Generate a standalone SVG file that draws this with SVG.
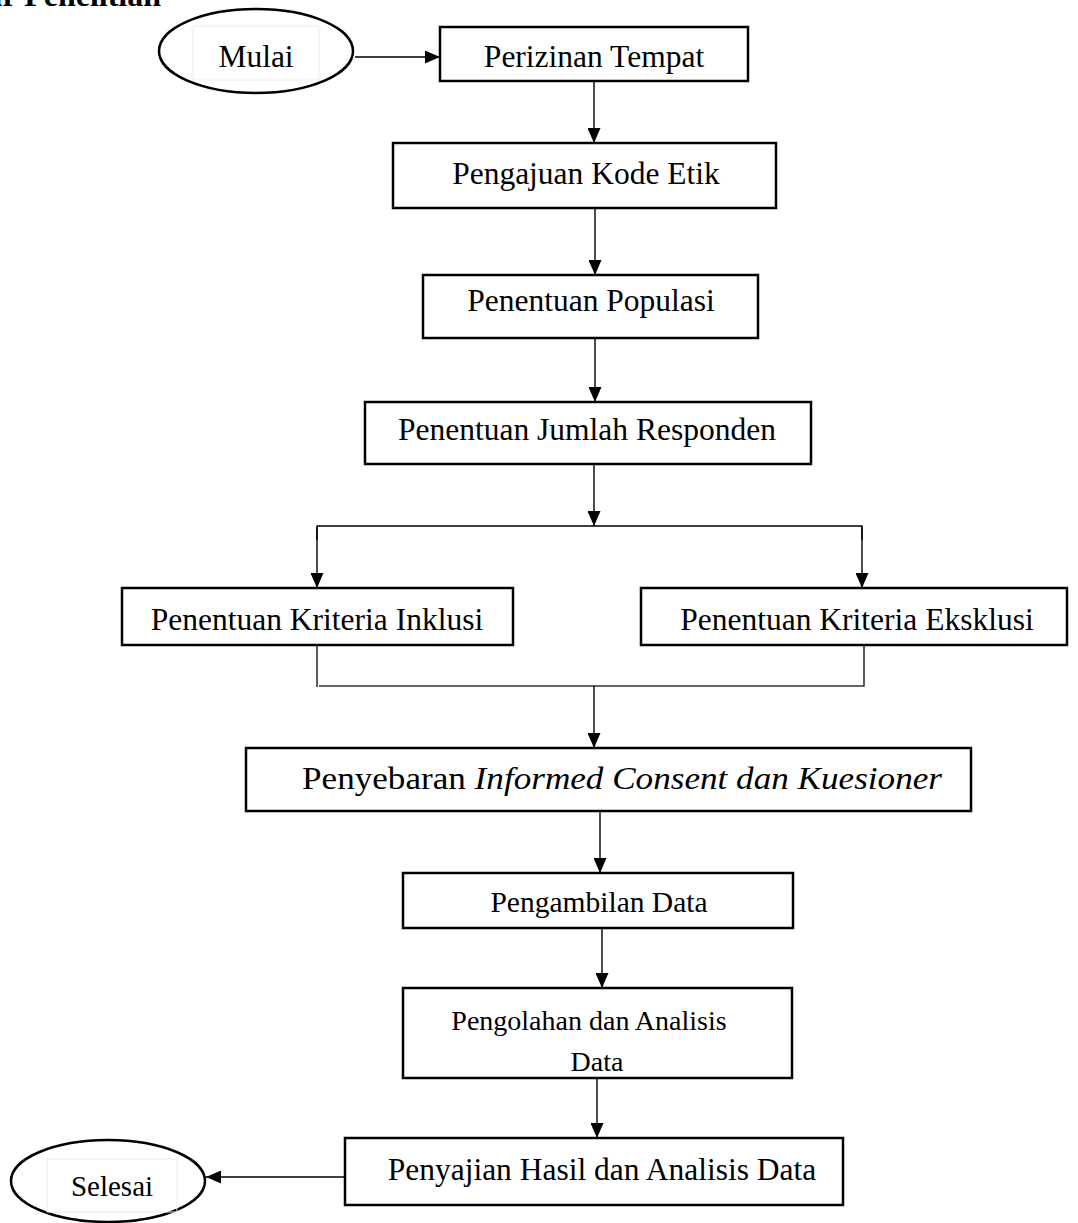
<svg xmlns="http://www.w3.org/2000/svg" width="1078" height="1223" viewBox="0 0 1078 1223">
<style>
.box{fill:#fff;stroke:#000;stroke-width:2.5}
.oval{fill:#fff;stroke:#000;stroke-width:2.5}
.tb{fill:none;stroke:#ececec;stroke-width:1}
.t{font-family:"Liberation Serif","Times New Roman",serif;font-size:31.5px;fill:#000;text-anchor:middle}
.ts{font-family:"Liberation Serif","Times New Roman",serif;font-size:28px;fill:#000;text-anchor:middle}
.c{fill:none;stroke:#000;stroke-width:1.4}
.m{fill:none;stroke:#333;stroke-width:1.6}
</style>
<defs>
<marker id="ah" markerWidth="15" markerHeight="13" refX="15" refY="6.5" orient="auto" markerUnits="userSpaceOnUse">
<path d="M0,0 L15,6.5 L0,13 Z" fill="#000"/>
</marker>
</defs>
<rect width="1078" height="1223" fill="#fff"/>
<text x="161" y="6" font-family="'Liberation Serif','Times New Roman',serif" font-size="32" font-weight="bold" text-anchor="end">Alur Penelitian</text>

<g id="connectors">
<line class="c" x1="355" y1="57" x2="440" y2="57" marker-end="url(#ah)"/>
<line class="c" x1="594" y1="81" x2="594" y2="143" marker-end="url(#ah)"/>
<line class="c" x1="595" y1="208" x2="595" y2="275" marker-end="url(#ah)"/>
<line class="c" x1="595" y1="338" x2="595" y2="402" marker-end="url(#ah)"/>
<line class="c" x1="594" y1="464" x2="594" y2="526" marker-end="url(#ah)"/>
<polyline class="c" points="317,540 317,526 862,526 862,540"/>
<line class="c" x1="317" y1="527" x2="317" y2="588" marker-end="url(#ah)"/>
<line class="c" x1="862" y1="527" x2="862" y2="588" marker-end="url(#ah)"/>
<polyline class="m" points="317,645 317,687"/>
<polyline class="m" points="319,686 864,686 864,645"/>
<line class="c" x1="594" y1="686" x2="594" y2="748" marker-end="url(#ah)"/>
<line class="c" x1="600" y1="811" x2="600" y2="873" marker-end="url(#ah)"/>
<line class="c" x1="602" y1="928" x2="602" y2="988" marker-end="url(#ah)"/>
<line class="c" x1="597" y1="1078" x2="597" y2="1138" marker-end="url(#ah)"/>
<line class="c" x1="345" y1="1177" x2="206" y2="1177" marker-end="url(#ah)"/>
</g>

<g id="mulai">
<ellipse class="oval" cx="256" cy="51" rx="97" ry="42"/>
<rect class="tb" x="193" y="26" width="126" height="54"/>
<text class="t" x="256" y="67">Mulai</text>
</g>
<g id="perizinan">
<rect class="box" x="440" y="27" width="308" height="54"/>
<text class="t" x="594" y="67">Perizinan Tempat</text>
</g>
<g id="kode-etik">
<rect class="box" x="393" y="143" width="383" height="65"/>
<text class="t" x="586" y="184">Pengajuan Kode Etik</text>
</g>
<g id="populasi">
<rect class="box" x="423" y="275" width="335" height="63"/>
<text class="t" x="591" y="311">Penentuan Populasi</text>
</g>
<g id="jumlah">
<rect class="box" x="365" y="402" width="446" height="62"/>
<text class="t" x="587" y="440">Penentuan Jumlah Responden</text>
</g>
<g id="inklusi">
<rect class="box" x="122" y="588" width="391" height="57"/>
<text class="t" x="317" y="630">Penentuan Kriteria Inklusi</text>
</g>
<g id="eksklusi">
<rect class="box" x="641" y="588" width="426" height="57"/>
<text class="t" x="857" y="630">Penentuan Kriteria Eksklusi</text>
</g>
<g id="penyebaran">
<rect class="box" x="246" y="748" width="725" height="63"/>
<text class="t" x="302" y="789" style="text-anchor:start" textLength="640" lengthAdjust="spacingAndGlyphs">Penyebaran <tspan font-style="italic">Informed Consent dan Kuesioner</tspan></text>
</g>
<g id="pengambilan">
<rect class="box" x="403" y="873" width="390" height="55"/>
<text class="ts" x="599" y="912" style="font-size:29.5px">Pengambilan Data</text>
</g>
<g id="pengolahan">
<rect class="box" x="403" y="988" width="389" height="90"/>
<text class="ts" x="589" y="1030">Pengolahan dan Analisis</text>
<text class="ts" x="597" y="1071">Data</text>
</g>
<g id="selesai">
<ellipse class="oval" cx="108" cy="1181" rx="97" ry="41"/>
<rect class="tb" x="47" y="1159" width="130" height="53"/>
<text class="ts" x="112" y="1196" style="font-size:29px">Selesai</text>
</g>
<g id="penyajian">
<rect class="box" x="345" y="1138" width="498" height="67"/>
<text class="t" x="602" y="1180">Penyajian Hasil dan Analisis Data</text>
</g>
</svg>
